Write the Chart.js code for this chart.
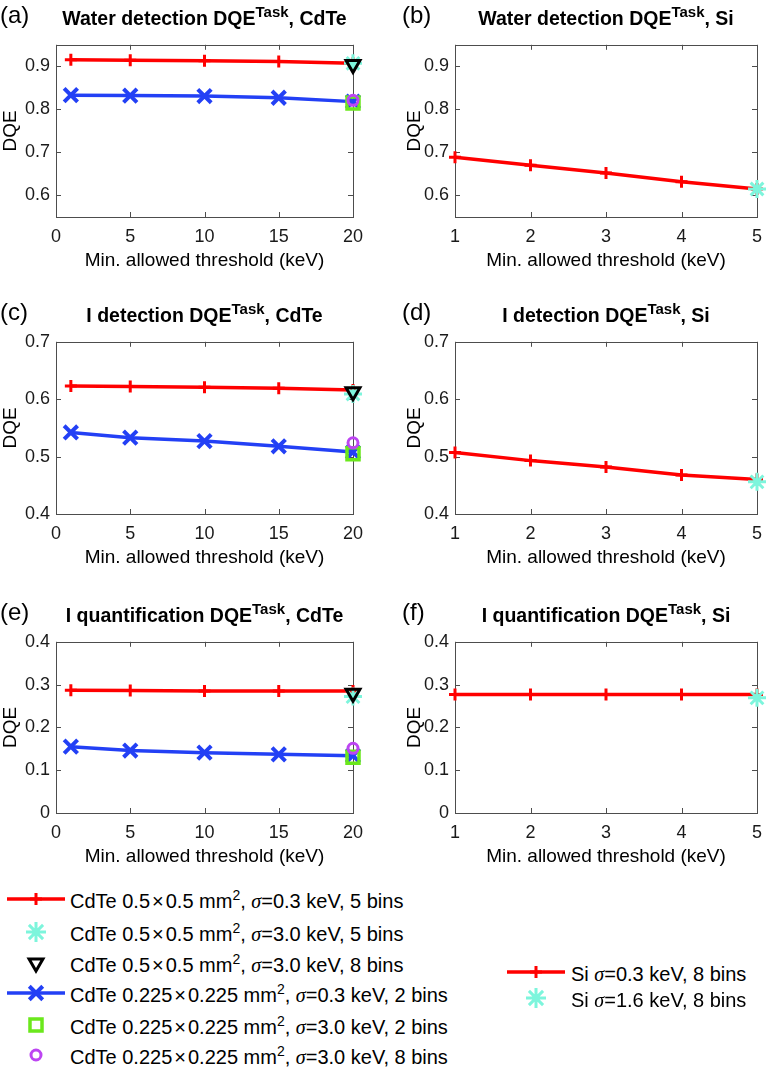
<!DOCTYPE html>
<html>
<head>
<meta charset="utf-8">
<script src="https://cdn.jsdelivr.net/npm/chart.js@4.4.1/dist/chart.umd.min.js"></script>
<style>
  body { margin: 0; background: #fff; width: 770px; height: 1073px; position: relative; overflow: hidden;
         font-family: "Liberation Sans", Arial, sans-serif; color: #000; }
  .abs { position: absolute; }
  .title { font-weight: bold; font-size: 19.5px; line-height: 26px; text-align: center; white-space: nowrap; }
  .title sup { font-size: 15px; position: relative; top: -8px; vertical-align: baseline; line-height: 0; }
  .plabel { font-size: 24px; line-height: 30px; }
  .leg { font-size: 20px; line-height: 24px; white-space: nowrap; }
  .leg sup { font-size: 14px; position: relative; top: -8px; vertical-align: baseline; line-height: 0; }
  .sig { font-family: "Liberation Serif", serif; font-style: italic; }
  .times { padding: 0 2px; }
</style>
</head>
<body>
<script>
// thresholds (keV)
const cdteThresholds = [1, 5, 10, 15, 20];
const siThresholds = [1, 2, 3, 4, 5];
const cdteExtraThreshold = 20;
const siExtraThreshold = 5;

// axis ticks and ranges
const cdteTicksX = [0, 5, 10, 15, 20];
const siTicksX = [1, 2, 3, 4, 5];
const cdteRangeX = [0, 20];
const siRangeX = [1, 5];
const waterTicksY = [0.6, 0.7, 0.8, 0.9];
const iodineTicksY = [0.4, 0.5, 0.6, 0.7];
const quantTicksY = [0, 0.1, 0.2, 0.3, 0.4];
const waterRangeY = [0.55, 0.95];
const iodineRangeY = [0.4, 0.7];
const quantRangeY = [0, 0.4];

// (a) water detection, CdTe  (extra = [sigma 3.0 / 5 or 2 bins, sigma 3.0 / 8 bins])
const waterCdTeLarge = [0.915, 0.914, 0.913, 0.911, 0.907];
const waterCdTeSmall = [0.833, 0.832, 0.831, 0.827, 0.818];
const waterCdTeLargeExtra = [0.907, 0.904];
const waterCdTeSmallExtra = [0.815, 0.821];
// (b) water detection, Si
const waterSi = [0.689, 0.670, 0.652, 0.632, 0.615];
const waterSiExtra = 0.615;

// (c) iodine detection, CdTe
const iodineCdTeLarge = [0.623, 0.622, 0.621, 0.619, 0.616];
const iodineCdTeSmall = [0.542, 0.533, 0.527, 0.518, 0.508];
const iodineCdTeLargeExtra = [0.609, 0.613];
const iodineCdTeSmallExtra = [0.505, 0.524];
// (d) iodine detection, Si
const iodineSi = [0.507, 0.493, 0.482, 0.468, 0.460];
const iodineSiExtra = 0.456;

// (e) iodine quantification, CdTe
const quantCdTeLarge = [0.287, 0.286, 0.285, 0.285, 0.285];
const quantCdTeSmall = [0.155, 0.146, 0.141, 0.137, 0.134];
const quantCdTeLargeExtra = [0.272, 0.280];
const quantCdTeSmallExtra = [0.130, 0.151];
// (f) iodine quantification, Si
const quantSi = [0.277, 0.277, 0.277, 0.277, 0.277];
const quantSiExtra = 0.269;

const FONT = '"Liberation Sans", Arial, sans-serif';

const styles = {
  red:  { color: '#ff0000', pointStyle: 'cross', radius: 6, width: 3 },
  blue: { color: '#2340f5', pointStyle: 'crossRot', radius: 9.5, width: 4 },
  star: { color: '#7df5dc', pointStyle: 'star', radius: 9, width: 3 },
  tri:  { color: '#000000', pointStyle: 'triangle', radius: 8, width: 3, rotation: 180 },
  sq:   { color: '#6be81c', pointStyle: 'rect', radius: 8.5, width: 3.5 },
  circ: { color: '#bd45f2', pointStyle: 'circle', radius: 5, width: 3 }
};

function lineSet(xs, ys, s) {
  return {
    data: xs.map((x, i) => ({ x: x, y: ys[i] })),
    borderColor: s.color, borderWidth: 3.5, backgroundColor: s.color,
    pointStyle: s.pointStyle, pointRadius: s.radius, pointBorderWidth: s.width,
    pointBorderColor: s.color, pointBackgroundColor: 'rgba(0,0,0,0)',
    clip: false, tension: 0
  };
}

function pointSet(x, y, s) {
  return {
    data: [{ x: x, y: y }], showLine: false,
    pointStyle: s.pointStyle, pointRadius: s.radius, pointBorderWidth: s.width,
    pointRotation: s.rotation || 0,
    pointBorderColor: s.color, pointBackgroundColor: 'rgba(0,0,0,0)',
    clip: false
  };
}

// first dataset is drawn on top
function cdteDatasets(large, small, largeExtra, smallExtra) {
  return [
    pointSet(cdteExtraThreshold, largeExtra[1], styles.tri),
    pointSet(cdteExtraThreshold, smallExtra[1], styles.circ),
    pointSet(cdteExtraThreshold, largeExtra[0], styles.star),
    pointSet(cdteExtraThreshold, smallExtra[0], styles.sq),
    lineSet(cdteThresholds, large, styles.red),
    lineSet(cdteThresholds, small, styles.blue)
  ];
}

function siDatasets(values, extra) {
  return [
    pointSet(siExtraThreshold, extra, styles.star),
    lineSet(siThresholds, values, styles.red)
  ];
}

// matlab-like box with inward ticks on all four sides
const matlabBox = {
  id: 'matlabBox',
  beforeDatasetsDraw(chart) {
    const { ctx, chartArea: a, scales } = chart;
    ctx.save();
    ctx.strokeStyle = '#4d4d4d';
    ctx.lineWidth = 1;
    ctx.strokeRect(Math.round(a.left) + 0.5, Math.round(a.top) + 0.5,
                   Math.round(a.right - a.left), Math.round(a.bottom - a.top));
    ctx.beginPath();
    scales.x.ticks.forEach(t => {
      const px = Math.round(scales.x.getPixelForValue(t.value)) + 0.5;
      ctx.moveTo(px, a.bottom); ctx.lineTo(px, a.bottom - 5);
      ctx.moveTo(px, a.top); ctx.lineTo(px, a.top + 5);
    });
    scales.y.ticks.forEach(t => {
      const py = Math.round(scales.y.getPixelForValue(t.value)) + 0.5;
      ctx.moveTo(a.left, py); ctx.lineTo(a.left + 5, py);
      ctx.moveTo(a.right, py); ctx.lineTo(a.right - 5, py);
    });
    ctx.stroke();
    ctx.restore();
  }
};

const plotTop = [38, 335, 635];
const plotBottom = [217, 514, 813];
const plotLeft = [56, 455];
const plotRight = [353, 757];
const yLabelX = [11, 415];
const panelLabelX = [0, 402];

const panels = [
  { label: '(a)', title: 'Water detection DQE<sup>Task</sup>, CdTe', row: 0, col: 0,
    xTicks: cdteTicksX, xRange: cdteRangeX, yTicks: waterTicksY, yRange: waterRangeY,
    datasets: cdteDatasets(waterCdTeLarge, waterCdTeSmall, waterCdTeLargeExtra, waterCdTeSmallExtra) },
  { label: '(b)', title: 'Water detection DQE<sup>Task</sup>, Si', row: 0, col: 1,
    xTicks: siTicksX, xRange: siRangeX, yTicks: waterTicksY, yRange: waterRangeY,
    datasets: siDatasets(waterSi, waterSiExtra) },
  { label: '(c)', title: 'I detection DQE<sup>Task</sup>, CdTe', row: 1, col: 0,
    xTicks: cdteTicksX, xRange: cdteRangeX, yTicks: iodineTicksY, yRange: iodineRangeY,
    datasets: cdteDatasets(iodineCdTeLarge, iodineCdTeSmall, iodineCdTeLargeExtra, iodineCdTeSmallExtra) },
  { label: '(d)', title: 'I detection DQE<sup>Task</sup>, Si', row: 1, col: 1,
    xTicks: siTicksX, xRange: siRangeX, yTicks: iodineTicksY, yRange: iodineRangeY,
    datasets: siDatasets(iodineSi, iodineSiExtra) },
  { label: '(e)', title: 'I quantification DQE<sup>Task</sup>, CdTe', row: 2, col: 0,
    xTicks: cdteTicksX, xRange: cdteRangeX, yTicks: quantTicksY, yRange: quantRangeY,
    datasets: cdteDatasets(quantCdTeLarge, quantCdTeSmall, quantCdTeLargeExtra, quantCdTeSmallExtra) },
  { label: '(f)', title: 'I quantification DQE<sup>Task</sup>, Si', row: 2, col: 1,
    xTicks: siTicksX, xRange: siRangeX, yTicks: quantTicksY, yRange: quantRangeY,
    datasets: siDatasets(quantSi, quantSiExtra) }
];

function addDiv(cls, html, left, top, width) {
  const d = document.createElement('div');
  d.className = 'abs ' + cls;
  d.innerHTML = html;
  d.style.left = left + 'px';
  d.style.top = top + 'px';
  if (width) d.style.width = width + 'px';
  document.body.appendChild(d);
  return d;
}

function makePanel(p) {
  const top = plotTop[p.row], bottom = plotBottom[p.row];
  const left = plotLeft[p.col], right = plotRight[p.col];
  const padTop = 10, padRight = 22, xAxisH = 54;
  const cLeft = yLabelX[p.col] - 10;
  const cTop = top - padTop;
  const cW = right + padRight - cLeft;
  const cH = bottom + xAxisH - cTop;

  const canvas = document.createElement('canvas');
  canvas.width = cW; canvas.height = cH;
  canvas.style.cssText = 'position:absolute;left:' + cLeft + 'px;top:' + cTop + 'px;width:' + cW + 'px;height:' + cH + 'px';
  document.body.appendChild(canvas);

  new Chart(canvas, {
    type: 'line',
    data: { datasets: p.datasets },
    options: {
      responsive: false,
      animation: false,
      devicePixelRatio: 1,
      layout: { padding: { top: padTop, right: padRight, bottom: 0, left: 0 } },
      plugins: { legend: { display: false }, tooltip: { enabled: false } },
      scales: {
        x: {
          type: 'linear', min: p.xRange[0], max: p.xRange[1],
          afterBuildTicks: s => { s.ticks = p.xTicks.map(v => ({ value: v })); },
          afterFit: s => { s.height = xAxisH; },
          grid: { display: false, drawTicks: false },
          border: { display: false },
          ticks: { font: { family: FONT, size: 18 }, color: '#1a1a1a', padding: 9,
                   maxRotation: 0, autoSkip: false, callback: v => String(v) },
          title: { display: true, text: 'Min. allowed threshold (keV)', color: '#000',
                   font: { family: FONT, size: 19, lineHeight: '20px' }, padding: 0 }
        },
        y: {
          min: p.yRange[0], max: p.yRange[1],
          afterBuildTicks: s => { s.ticks = p.yTicks.map(v => ({ value: v })); },
          afterFit: s => { s.width = left - cLeft; },
          grid: { display: false, drawTicks: false },
          border: { display: false },
          ticks: { font: { family: FONT, size: 18 }, color: '#1a1a1a', padding: 6,
                   autoSkip: false, callback: v => String(v) },
          title: { display: true, text: 'DQE', color: '#000',
                   font: { family: FONT, size: 19, lineHeight: '20px' }, padding: 0 }
        }
      }
    },
    plugins: [matlabBox]
  });

  addDiv('title', p.title, left - 40, top - 33, right - left + 80);
  addDiv('plabel', p.label, panelLabelX[p.col], top - 38);
}

panels.forEach(makePanel);

// legends
const sig = '<span class="sig">\u03c3</span>';
const x = '<span class="times">\u00d7</span>';
const leftLegend = [
  { text: 'CdTe 0.5' + x + '0.5 mm<sup>2</sup>, ' + sig + '=0.3 keV, 5 bins', s: styles.red, line: true },
  { text: 'CdTe 0.5' + x + '0.5 mm<sup>2</sup>, ' + sig + '=3.0 keV, 5 bins', s: styles.star, big: true },
  { text: 'CdTe 0.5' + x + '0.5 mm<sup>2</sup>, ' + sig + '=3.0 keV, 8 bins', s: styles.tri },
  { text: 'CdTe 0.225' + x + '0.225 mm<sup>2</sup>, ' + sig + '=0.3 keV, 2 bins', s: styles.blue, line: true },
  { text: 'CdTe 0.225' + x + '0.225 mm<sup>2</sup>, ' + sig + '=3.0 keV, 2 bins', s: styles.sq },
  { text: 'CdTe 0.225' + x + '0.225 mm<sup>2</sup>, ' + sig + '=3.0 keV, 8 bins', s: styles.circ }
];
const rightLegend = [
  { text: 'Si ' + sig + '=0.3 keV, 8 bins', s: styles.red, line: true },
  { text: 'Si ' + sig + '=1.6 keV, 8 bins', s: styles.star, big: true }
];

function drawSymbol(ctx, s, px, py, big) {
  ctx.strokeStyle = s.color;
  ctx.fillStyle = 'rgba(0,0,0,0)';
  ctx.lineWidth = s.width;
  const opts = { pointStyle: s.pointStyle, radius: big ? s.radius + 1 : s.radius,
                 rotation: s.rotation || 0, borderWidth: s.width };
  if (Chart.helpers && Chart.helpers.drawPoint) {
    Chart.helpers.drawPoint(ctx, opts, px, py);
  }
}

function addLegend(items, symLeft, textLeft, ys) {
  items.forEach((it, i) => {
    const y = ys[i];
    const c = document.createElement('canvas');
    c.width = 64; c.height = 30;
    c.style.cssText = 'position:absolute;left:' + symLeft + 'px;top:' + (y - 15) + 'px';
    document.body.appendChild(c);
    const ctx = c.getContext('2d');
    if (it.line) {
      ctx.strokeStyle = it.s.color; ctx.lineWidth = 3.5;
      ctx.beginPath(); ctx.moveTo(3, 15); ctx.lineTo(61, 15); ctx.stroke();
    }
    drawSymbol(ctx, it.s, 32, 15, it.big);
    addDiv('leg', it.text, textLeft, y + 2 - 12);
  });
}

addLegend(leftLegend, 4, 70, [899, 932, 963, 993, 1025, 1055]);
addLegend(rightLegend, 504, 571, [972, 998]);
</script>
</body>
</html>
